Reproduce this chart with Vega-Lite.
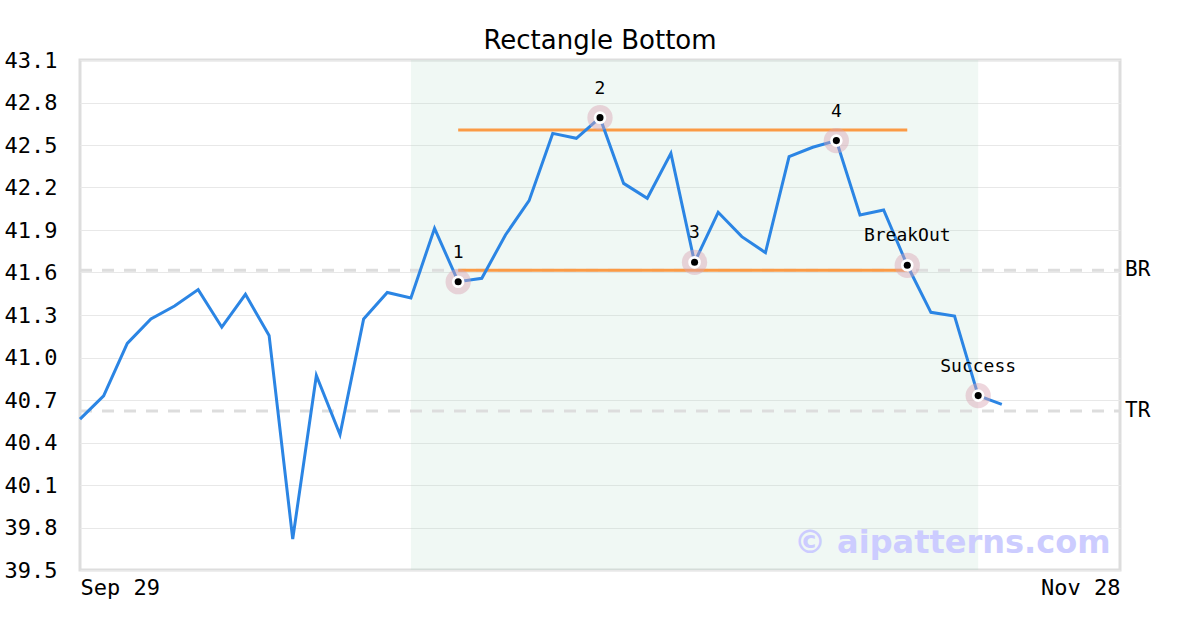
{
  "$schema": "https://vega.github.io/schema/vega-lite/v6.json",
  "width": 1040,
  "height": 510,
  "autosize": "none",
  "padding": {"left": 80, "top": 60, "right": 80, "bottom": 60},
  "background": "white",
  "title": {"text": "Rectangle Bottom", "font": "DejaVu Sans", "fontSize": 26, "fontWeight": "normal", "color": "black", "anchor": "middle", "offset": -5},
  "config": {
    "view": {"stroke": "#dddddd", "strokeWidth": 3},
    "axis": {"labelFont": "DejaVu Sans Mono", "labelFontSize": 22, "labelColor": "black", "domain": false, "ticks": false, "tickSize": 0, "title": null}
  },
  "datasets": {
    "price": [
      {"i": 0, "v": 40.565}, {"i": 1, "v": 40.729}, {"i": 2, "v": 41.10}, {"i": 3, "v": 41.272},
      {"i": 4, "v": 41.363}, {"i": 5, "v": 41.479}, {"i": 6, "v": 41.214}, {"i": 7, "v": 41.446},
      {"i": 8, "v": 41.156}, {"i": 9, "v": 39.719}, {"i": 10, "v": 40.873}, {"i": 11, "v": 40.456},
      {"i": 12, "v": 41.272}, {"i": 13, "v": 41.459}, {"i": 14, "v": 41.42}, {"i": 15, "v": 41.912},
      {"i": 16, "v": 41.535}, {"i": 17, "v": 41.559}, {"i": 18, "v": 41.865}, {"i": 19, "v": 42.107},
      {"i": 20, "v": 42.582}, {"i": 21, "v": 42.547}, {"i": 22, "v": 42.693}, {"i": 23, "v": 42.229},
      {"i": 24, "v": 42.124}, {"i": 25, "v": 42.441}, {"i": 26, "v": 41.672}, {"i": 27, "v": 42.025},
      {"i": 28, "v": 41.853}, {"i": 29, "v": 41.74}, {"i": 30, "v": 42.418}, {"i": 31, "v": 42.484},
      {"i": 32, "v": 42.531}, {"i": 33, "v": 42.006}, {"i": 34, "v": 42.041}, {"i": 35, "v": 41.651},
      {"i": 36, "v": 41.319}, {"i": 37, "v": 41.293}, {"i": 38, "v": 40.731}, {"i": 39, "v": 40.669}
    ],
    "markers": [
      {"i": 16, "v": 41.535, "label": "1"},
      {"i": 22, "v": 42.693, "label": "2"},
      {"i": 26, "v": 41.672, "label": "3"},
      {"i": 32, "v": 42.531, "label": "4"},
      {"i": 35, "v": 41.651, "label": "BreakOut"},
      {"i": 38, "v": 40.731, "label": "Success"}
    ],
    "levels": [
      {"v": 42.606, "start": 16, "end": 35},
      {"v": 41.616, "start": 16, "end": 35}
    ],
    "refs": [
      {"v": 41.616, "label": "BR"},
      {"v": 40.622, "label": "TR"}
    ],
    "zone": [{"start": 14, "end": 38}]
  },
  "encoding": {
    "x": {"type": "quantitative", "scale": {"domain": [0, 44], "nice": false, "zero": false},
      "axis": {"values": [0, 44], "labelExpr": "datum.value == 0 ? 'Sep 29' : 'Nov 28'", "labelFlush": true, "grid": false, "labelPadding": 7}},
    "y": {"type": "quantitative", "scale": {"domain": [39.5, 43.1], "nice": false, "zero": false},
      "axis": {"values": [39.5, 39.8, 40.1, 40.4, 40.7, 41.0, 41.3, 41.6, 41.9, 42.2, 42.5, 42.8, 43.1], "format": ".1f", "grid": true, "gridColor": "#e8e8e8", "gridWidth": 1, "labelPadding": 23}}
  },
  "layer": [
    {
      "data": {"name": "zone"},
      "mark": {"type": "rect", "fill": "#b3dcc9", "opacity": 0.2},
      "encoding": {"x": {"field": "start"}, "x2": {"field": "end"}, "y": {"datum": 39.5}, "y2": {"datum": 43.1}}
    },
    {
      "data": {"name": "refs"},
      "mark": {"type": "rule", "stroke": "#dddddd", "strokeWidth": 3, "strokeDash": [12, 10]},
      "encoding": {"y": {"field": "v"}, "x": {"datum": 0}, "x2": {"datum": 44}}
    },
    {
      "data": {"name": "levels"},
      "mark": {"type": "rule", "stroke": "#fb9a45", "strokeWidth": 3},
      "encoding": {"y": {"field": "v"}, "x": {"field": "start"}, "x2": {"field": "end"}}
    },
    {
      "data": {"name": "price"},
      "mark": {"type": "line", "stroke": "#2b85e4", "strokeWidth": 3},
      "encoding": {"x": {"field": "i"}, "y": {"field": "v"}}
    },
    {
      "data": {"name": "markers"},
      "mark": {"type": "point", "shape": "circle", "filled": true, "fill": "#d9a5b3", "opacity": 0.45, "size": 640, "strokeWidth": 0},
      "encoding": {"x": {"field": "i"}, "y": {"field": "v"}}
    },
    {
      "data": {"name": "markers"},
      "mark": {"type": "point", "shape": "circle", "filled": true, "fill": "white", "opacity": 1, "size": 160, "strokeWidth": 0},
      "encoding": {"x": {"field": "i"}, "y": {"field": "v"}}
    },
    {
      "data": {"name": "markers"},
      "mark": {"type": "point", "shape": "circle", "filled": true, "fill": "black", "opacity": 1, "size": 50, "strokeWidth": 0},
      "encoding": {"x": {"field": "i"}, "y": {"field": "v"}}
    },
    {
      "data": {"name": "markers"},
      "mark": {"type": "text", "font": "DejaVu Sans Mono", "fontSize": 18, "color": "black", "dy": -29, "align": "center", "baseline": "middle"},
      "encoding": {"x": {"field": "i"}, "y": {"field": "v"}, "text": {"field": "label"}}
    },
    {
      "data": {"name": "refs"},
      "mark": {"type": "text", "font": "DejaVu Sans Mono", "fontSize": 21, "color": "black", "align": "left", "baseline": "middle", "dx": 5},
      "encoding": {"x": {"datum": 44}, "y": {"field": "v"}, "text": {"field": "label"}}
    },
    {
      "data": {"values": [{"t": "© aipatterns.com"}]},
      "mark": {"type": "text", "font": "DejaVu Sans", "fontSize": 32, "fontWeight": "bold", "color": "#ccccff", "align": "right", "baseline": "middle"},
      "encoding": {"x": {"datum": 43.6}, "y": {"datum": 39.69}, "text": {"field": "t"}}
    }
  ]
}
